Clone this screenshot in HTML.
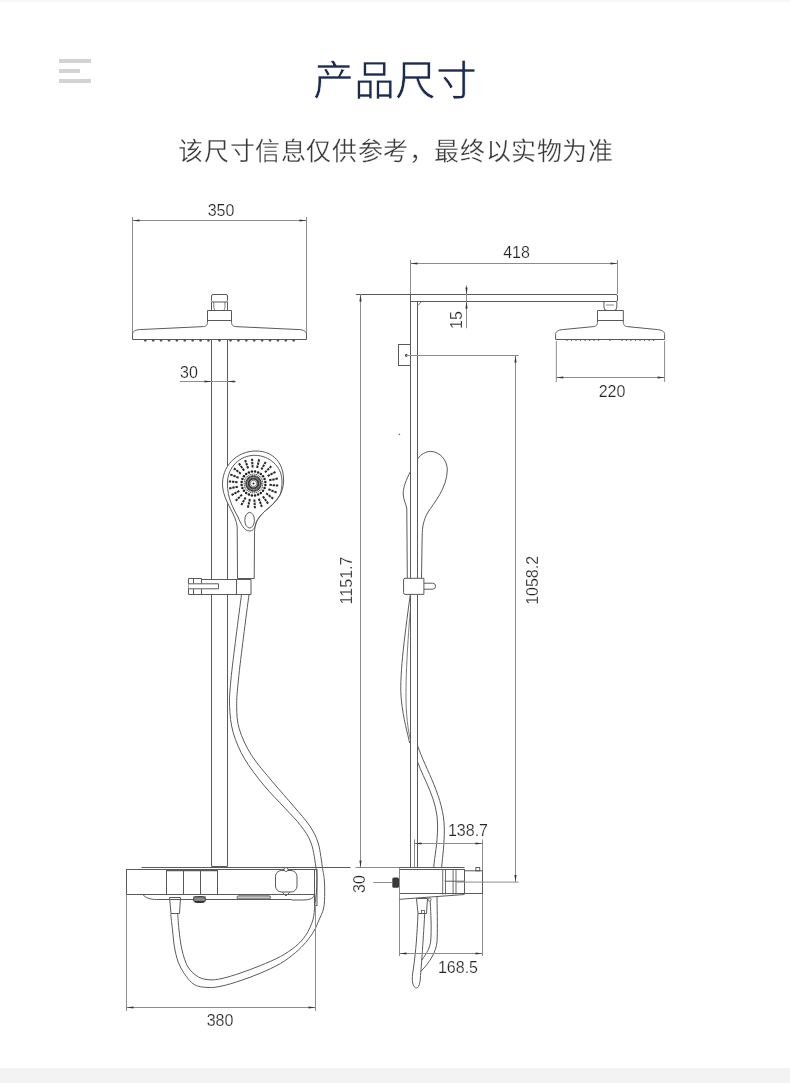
<!DOCTYPE html>
<html lang="zh-CN"><head><meta charset="utf-8">
<style>
html,body{margin:0;padding:0;background:#fff;}
body{width:790px;height:1083px;position:relative;overflow:hidden;font-family:"Liberation Sans",sans-serif;}
.topline{position:absolute;left:0;top:0;width:790px;height:2px;background:#f7f7f7;}
.bar{position:absolute;background:#d3d3d3;height:4px;left:59px;}
.title{position:absolute;left:0;width:790px;top:56px;text-align:center;font-size:41px;color:#1b2b50;-webkit-text-stroke:0.6px #fff;line-height:50px;will-change:transform;}
.sub{position:absolute;left:1px;width:790px;top:132.7px;text-align:center;font-size:25px;letter-spacing:0.6px;color:#383838;-webkit-text-stroke:0.3px #fff;line-height:36px;will-change:transform;}
.bottom{position:absolute;left:0;top:1068px;width:790px;height:15px;background:#f3f3f3;}
svg{position:absolute;left:0;top:0;will-change:transform;}
svg text{font-family:"Liberation Sans",sans-serif;}
</style></head><body>
<div class="topline"></div>
<div class="bar" style="top:59px;width:32px"></div>
<div class="bar" style="top:69px;width:21px"></div>
<div class="bar" style="top:79px;width:32px"></div>
<div class="title">产品尺寸</div>
<div class="sub">该尺寸信息仅供参考，最终以实物为准</div>
<svg width="790" height="1083" viewBox="0 0 790 1083">
<line x1="132" y1="220.5" x2="307" y2="220.5" stroke="#8c8c8c" stroke-width="1"/>
<line x1="132.5" y1="217" x2="132.5" y2="339" stroke="#8c8c8c" stroke-width="1"/>
<line x1="306.5" y1="217" x2="306.5" y2="339" stroke="#8c8c8c" stroke-width="1"/>
<path d="M132.5,220.5 L139.5,219.4 L139.5,221.6 Z" fill="#333" stroke="none"/>
<path d="M306.5,220.5 L299.5,221.6 L299.5,219.4 Z" fill="#333" stroke="none"/>
<text x="221" y="215.5" font-size="16" fill="#262626" stroke="#fff" stroke-width="0.2" text-anchor="middle">350</text>
<path d="M132.5,339.5 V334.5 C132.5,331.5 135.0,330 139.5,329.6 L203.5,326.6 C206.5,326.3 207.5,325 207.5,321 V310.5 H231.5 V321 C231.5,325 232.5,326.3 235.5,326.6 L299.5,329.6 C304.0,330 306.5,331.5 306.5,334.5 V339.5 Z" stroke="#5a5a5a" stroke-width="1" fill="none"/>
<line x1="207.5" y1="320.5" x2="231.5" y2="320.5" stroke="#5a5a5a" stroke-width="1"/>
<rect x="211.5" y="294.5" width="16" height="7.5" rx="1.5" stroke="#5a5a5a" stroke-width="1" fill="none"/>
<line x1="211.5" y1="302" x2="211.5" y2="310.5" stroke="#5a5a5a" stroke-width="1"/>
<line x1="227.5" y1="302" x2="227.5" y2="310.5" stroke="#5a5a5a" stroke-width="1"/>
<path d="M213.8,302 V307.5 Q214,309.5 215.5,310.5" stroke="#5a5a5a" stroke-width="0.8" fill="none"/>
<path d="M225,302 V307.5 Q224.8,309.5 223.3,310.5" stroke="#5a5a5a" stroke-width="0.8" fill="none"/>
<path d="M143.80,339.5 Q143.80,341.7 145.30,341.7 Q146.80,341.7 146.80,339.5 Z" fill="#555" stroke="none"/>
<path d="M292.20,339.5 Q292.20,341.7 293.70,341.7 Q295.20,341.7 295.20,339.5 Z" fill="#555" stroke="none"/>
<path d="M151.70,339.5 Q151.70,341.7 153.20,341.7 Q154.70,341.7 154.70,339.5 Z" fill="#555" stroke="none"/>
<path d="M284.30,339.5 Q284.30,341.7 285.80,341.7 Q287.30,341.7 287.30,339.5 Z" fill="#555" stroke="none"/>
<path d="M159.60,339.5 Q159.60,341.7 161.10,341.7 Q162.60,341.7 162.60,339.5 Z" fill="#555" stroke="none"/>
<path d="M276.40,339.5 Q276.40,341.7 277.90,341.7 Q279.40,341.7 279.40,339.5 Z" fill="#555" stroke="none"/>
<path d="M167.50,339.5 Q167.50,341.7 169.00,341.7 Q170.50,341.7 170.50,339.5 Z" fill="#555" stroke="none"/>
<path d="M268.50,339.5 Q268.50,341.7 270.00,341.7 Q271.50,341.7 271.50,339.5 Z" fill="#555" stroke="none"/>
<path d="M175.40,339.5 Q175.40,341.7 176.90,341.7 Q178.40,341.7 178.40,339.5 Z" fill="#555" stroke="none"/>
<path d="M260.60,339.5 Q260.60,341.7 262.10,341.7 Q263.60,341.7 263.60,339.5 Z" fill="#555" stroke="none"/>
<path d="M183.30,339.5 Q183.30,341.7 184.80,341.7 Q186.30,341.7 186.30,339.5 Z" fill="#555" stroke="none"/>
<path d="M252.70,339.5 Q252.70,341.7 254.20,341.7 Q255.70,341.7 255.70,339.5 Z" fill="#555" stroke="none"/>
<path d="M191.20,339.5 Q191.20,341.7 192.70,341.7 Q194.20,341.7 194.20,339.5 Z" fill="#555" stroke="none"/>
<path d="M244.80,339.5 Q244.80,341.7 246.30,341.7 Q247.80,341.7 247.80,339.5 Z" fill="#555" stroke="none"/>
<path d="M199.10,339.5 Q199.10,341.7 200.60,341.7 Q202.10,341.7 202.10,339.5 Z" fill="#555" stroke="none"/>
<path d="M236.90,339.5 Q236.90,341.7 238.40,341.7 Q239.90,341.7 239.90,339.5 Z" fill="#555" stroke="none"/>
<path d="M207.00,339.5 Q207.00,341.7 208.50,341.7 Q210.00,341.7 210.00,339.5 Z" fill="#555" stroke="none"/>
<path d="M229.00,339.5 Q229.00,341.7 230.50,341.7 Q232.00,341.7 232.00,339.5 Z" fill="#555" stroke="none"/>
<path d="M218.00,339.5 Q218.00,341.7 219.50,341.7 Q221.00,341.7 221.00,339.5 Z" fill="#555" stroke="none"/>
<path d="M211.5,339.5 V866.5 H227.5 V339.5" stroke="#5a5a5a" stroke-width="1" fill="none"/>
<line x1="180" y1="381.5" x2="236" y2="381.5" stroke="#8c8c8c" stroke-width="1"/>
<path d="M211.5,381.5 L204.5,382.6 L204.5,380.4 Z" fill="#333" stroke="none"/>
<path d="M227.5,381.5 L234.5,380.4 L234.5,382.6 Z" fill="#333" stroke="none"/>
<text x="180" y="377.8" font-size="16" fill="#262626" stroke="#fff" stroke-width="0.2" text-anchor="start">30</text>
<path d="M237.5,578.5 L237.2,527 C236.5,515 224,502 222.6,487 C221,466 237,451 256,451 C274,451 284,464 283.6,481 C283.4,487 282,491 280,495 C276,502 270,507 265,511 C260,516 256.5,520 255.5,525 C254.6,528 254.5,531 254.5,536 L254.2,578.5" stroke="#5a5a5a" stroke-width="1" fill="#fff"/>
<path d="M249.7,531 C244,531 241,524 238,517 C233,508 227.3,498 227.4,483 C227.6,467 240,455.3 254.8,455.3 C270,455.5 281.5,467 282,480 C282.2,486 281.5,491 280,495 C276,502 270,507 265,511 C260,516 256.5,520 255.5,525 C254.5,529 252.5,531 249.7,531 Z" stroke="#5a5a5a" stroke-width="1" fill="none"/>
<ellipse cx="249.6" cy="520.2" rx="4.8" ry="7.8" stroke="#5a5a5a" stroke-width="1" fill="none"/>
<line x1="257.50" y1="483.50" x2="263.30" y2="483.50" stroke="#333" stroke-width="1.5" stroke-dasharray="1.8 0.7"/>
<line x1="257.41" y1="484.33" x2="263.09" y2="485.54" stroke="#333" stroke-width="1.5" stroke-dasharray="1.8 0.7"/>
<line x1="257.15" y1="485.13" x2="262.45" y2="487.49" stroke="#333" stroke-width="1.5" stroke-dasharray="1.8 0.7"/>
<line x1="256.74" y1="485.85" x2="261.43" y2="489.26" stroke="#333" stroke-width="1.5" stroke-dasharray="1.8 0.7"/>
<line x1="256.18" y1="486.47" x2="260.06" y2="490.78" stroke="#333" stroke-width="1.5" stroke-dasharray="1.8 0.7"/>
<line x1="255.50" y1="486.96" x2="258.40" y2="491.99" stroke="#333" stroke-width="1.5" stroke-dasharray="1.8 0.7"/>
<line x1="254.74" y1="487.30" x2="256.53" y2="492.82" stroke="#333" stroke-width="1.5" stroke-dasharray="1.8 0.7"/>
<line x1="253.92" y1="487.48" x2="254.52" y2="493.25" stroke="#333" stroke-width="1.5" stroke-dasharray="1.8 0.7"/>
<line x1="253.08" y1="487.48" x2="252.48" y2="493.25" stroke="#333" stroke-width="1.5" stroke-dasharray="1.8 0.7"/>
<line x1="252.26" y1="487.30" x2="250.47" y2="492.82" stroke="#333" stroke-width="1.5" stroke-dasharray="1.8 0.7"/>
<line x1="251.50" y1="486.96" x2="248.60" y2="491.99" stroke="#333" stroke-width="1.5" stroke-dasharray="1.8 0.7"/>
<line x1="250.82" y1="486.47" x2="246.94" y2="490.78" stroke="#333" stroke-width="1.5" stroke-dasharray="1.8 0.7"/>
<line x1="250.26" y1="485.85" x2="245.57" y2="489.26" stroke="#333" stroke-width="1.5" stroke-dasharray="1.8 0.7"/>
<line x1="249.85" y1="485.13" x2="244.55" y2="487.49" stroke="#333" stroke-width="1.5" stroke-dasharray="1.8 0.7"/>
<line x1="249.59" y1="484.33" x2="243.91" y2="485.54" stroke="#333" stroke-width="1.5" stroke-dasharray="1.8 0.7"/>
<line x1="249.50" y1="483.50" x2="243.70" y2="483.50" stroke="#333" stroke-width="1.5" stroke-dasharray="1.8 0.7"/>
<line x1="249.59" y1="482.67" x2="243.91" y2="481.46" stroke="#333" stroke-width="1.5" stroke-dasharray="1.8 0.7"/>
<line x1="249.85" y1="481.87" x2="244.55" y2="479.51" stroke="#333" stroke-width="1.5" stroke-dasharray="1.8 0.7"/>
<line x1="250.26" y1="481.15" x2="245.57" y2="477.74" stroke="#333" stroke-width="1.5" stroke-dasharray="1.8 0.7"/>
<line x1="250.82" y1="480.53" x2="246.94" y2="476.22" stroke="#333" stroke-width="1.5" stroke-dasharray="1.8 0.7"/>
<line x1="251.50" y1="480.04" x2="248.60" y2="475.01" stroke="#333" stroke-width="1.5" stroke-dasharray="1.8 0.7"/>
<line x1="252.26" y1="479.70" x2="250.47" y2="474.18" stroke="#333" stroke-width="1.5" stroke-dasharray="1.8 0.7"/>
<line x1="253.08" y1="479.52" x2="252.48" y2="473.75" stroke="#333" stroke-width="1.5" stroke-dasharray="1.8 0.7"/>
<line x1="253.92" y1="479.52" x2="254.52" y2="473.75" stroke="#333" stroke-width="1.5" stroke-dasharray="1.8 0.7"/>
<line x1="254.74" y1="479.70" x2="256.53" y2="474.18" stroke="#333" stroke-width="1.5" stroke-dasharray="1.8 0.7"/>
<line x1="255.50" y1="480.04" x2="258.40" y2="475.01" stroke="#333" stroke-width="1.5" stroke-dasharray="1.8 0.7"/>
<line x1="256.18" y1="480.53" x2="260.06" y2="476.22" stroke="#333" stroke-width="1.5" stroke-dasharray="1.8 0.7"/>
<line x1="256.74" y1="481.15" x2="261.43" y2="477.74" stroke="#333" stroke-width="1.5" stroke-dasharray="1.8 0.7"/>
<line x1="257.15" y1="481.87" x2="262.45" y2="479.51" stroke="#333" stroke-width="1.5" stroke-dasharray="1.8 0.7"/>
<line x1="257.41" y1="482.67" x2="263.09" y2="481.46" stroke="#333" stroke-width="1.5" stroke-dasharray="1.8 0.7"/>
<circle cx="253.5" cy="483.5" r="6.5" stroke="#555" stroke-width="0.8" fill="none"/>
<circle cx="253.5" cy="483.5" r="3.2" stroke="#666" stroke-width="0.9" fill="#fff"/>
<circle cx="253.5" cy="483.5" r="1" fill="#222"/>
<circle cx="265.40" cy="485.07" r="1.25" fill="#222"/>
<circle cx="264.59" cy="488.09" r="1.25" fill="#222"/>
<circle cx="263.02" cy="490.81" r="1.25" fill="#222"/>
<circle cx="260.81" cy="493.02" r="1.25" fill="#222"/>
<circle cx="258.09" cy="494.59" r="1.25" fill="#222"/>
<circle cx="255.07" cy="495.40" r="1.25" fill="#222"/>
<circle cx="251.93" cy="495.40" r="1.25" fill="#222"/>
<circle cx="248.91" cy="494.59" r="1.25" fill="#222"/>
<circle cx="246.19" cy="493.02" r="1.25" fill="#222"/>
<circle cx="243.98" cy="490.81" r="1.25" fill="#222"/>
<circle cx="242.41" cy="488.09" r="1.25" fill="#222"/>
<circle cx="241.60" cy="485.07" r="1.25" fill="#222"/>
<circle cx="241.60" cy="481.93" r="1.25" fill="#222"/>
<circle cx="242.41" cy="478.91" r="1.25" fill="#222"/>
<circle cx="243.98" cy="476.19" r="1.25" fill="#222"/>
<circle cx="246.19" cy="473.98" r="1.25" fill="#222"/>
<circle cx="248.91" cy="472.41" r="1.25" fill="#222"/>
<circle cx="251.93" cy="471.60" r="1.25" fill="#222"/>
<circle cx="255.07" cy="471.60" r="1.25" fill="#222"/>
<circle cx="258.09" cy="472.41" r="1.25" fill="#222"/>
<circle cx="260.81" cy="473.98" r="1.25" fill="#222"/>
<circle cx="263.02" cy="476.19" r="1.25" fill="#222"/>
<circle cx="264.59" cy="478.91" r="1.25" fill="#222"/>
<circle cx="265.40" cy="481.93" r="1.25" fill="#222"/>
<line x1="269.44" y1="484.87" x2="278.91" y2="485.68" stroke="#2a2a2a" stroke-width="2" stroke-dasharray="2.4 0.8"/>
<line x1="268.41" y1="489.30" x2="277.26" y2="492.75" stroke="#2a2a2a" stroke-width="2" stroke-dasharray="2.4 0.8"/>
<line x1="266.17" y1="493.27" x2="273.69" y2="499.07" stroke="#2a2a2a" stroke-width="2" stroke-dasharray="2.4 0.8"/>
<line x1="262.90" y1="496.44" x2="268.49" y2="504.13" stroke="#2a2a2a" stroke-width="2" stroke-dasharray="2.4 0.8"/>
<line x1="258.88" y1="498.57" x2="262.07" y2="507.52" stroke="#2a2a2a" stroke-width="2" stroke-dasharray="2.4 0.8"/>
<line x1="254.41" y1="499.47" x2="254.96" y2="508.96" stroke="#2a2a2a" stroke-width="2" stroke-dasharray="2.4 0.8"/>
<line x1="249.88" y1="499.08" x2="247.72" y2="508.34" stroke="#2a2a2a" stroke-width="2" stroke-dasharray="2.4 0.8"/>
<line x1="245.63" y1="497.43" x2="240.96" y2="505.70" stroke="#2a2a2a" stroke-width="2" stroke-dasharray="2.4 0.8"/>
<line x1="242.03" y1="494.65" x2="235.21" y2="501.27" stroke="#2a2a2a" stroke-width="2" stroke-dasharray="2.4 0.8"/>
<line x1="239.35" y1="490.97" x2="230.95" y2="495.40" stroke="#2a2a2a" stroke-width="2" stroke-dasharray="2.4 0.8"/>
<line x1="237.82" y1="486.68" x2="228.51" y2="488.56" stroke="#2a2a2a" stroke-width="2" stroke-dasharray="2.4 0.8"/>
<line x1="237.56" y1="482.13" x2="228.09" y2="481.32" stroke="#2a2a2a" stroke-width="2" stroke-dasharray="2.4 0.8"/>
<line x1="238.59" y1="477.70" x2="229.74" y2="474.25" stroke="#2a2a2a" stroke-width="2" stroke-dasharray="2.4 0.8"/>
<line x1="240.83" y1="473.73" x2="233.31" y2="467.93" stroke="#2a2a2a" stroke-width="2" stroke-dasharray="2.4 0.8"/>
<line x1="244.10" y1="470.56" x2="238.51" y2="462.87" stroke="#2a2a2a" stroke-width="2" stroke-dasharray="2.4 0.8"/>
<line x1="248.12" y1="468.43" x2="244.93" y2="459.48" stroke="#2a2a2a" stroke-width="2" stroke-dasharray="2.4 0.8"/>
<line x1="252.59" y1="467.53" x2="252.04" y2="458.04" stroke="#2a2a2a" stroke-width="2" stroke-dasharray="2.4 0.8"/>
<line x1="257.12" y1="467.92" x2="259.28" y2="458.66" stroke="#2a2a2a" stroke-width="2" stroke-dasharray="2.4 0.8"/>
<line x1="261.37" y1="469.57" x2="266.04" y2="461.30" stroke="#2a2a2a" stroke-width="2" stroke-dasharray="2.4 0.8"/>
<line x1="264.97" y1="472.35" x2="271.79" y2="465.73" stroke="#2a2a2a" stroke-width="2" stroke-dasharray="2.4 0.8"/>
<line x1="267.65" y1="476.03" x2="276.05" y2="471.60" stroke="#2a2a2a" stroke-width="2" stroke-dasharray="2.4 0.8"/>
<line x1="269.18" y1="480.32" x2="278.49" y2="478.44" stroke="#2a2a2a" stroke-width="2" stroke-dasharray="2.4 0.8"/>
<path d="M188.5,578.5 H201.5 V579.5 H251 V594.5 H188.5 Z" stroke="#5a5a5a" stroke-width="1" fill="#fff"/>
<line x1="193.5" y1="578.5" x2="193.5" y2="583.8" stroke="#5a5a5a" stroke-width="1"/>
<line x1="201.5" y1="578.5" x2="201.5" y2="583.8" stroke="#5a5a5a" stroke-width="1"/>
<line x1="193.5" y1="588.8" x2="193.5" y2="594.5" stroke="#5a5a5a" stroke-width="1"/>
<line x1="201.5" y1="588.8" x2="201.5" y2="594.5" stroke="#5a5a5a" stroke-width="1"/>
<path d="M188.5,583.8 H218.5 V588.8 H188.5" stroke="#5a5a5a" stroke-width="1" fill="#fff"/>
<line x1="236.5" y1="579.5" x2="236.5" y2="594.5" stroke="#5a5a5a" stroke-width="1"/>
<line x1="237.5" y1="578.5" x2="254.2" y2="578.5" stroke="#5a5a5a" stroke-width="1"/>
<path d="M241.5,594.5 C240.58,601.58 237.77,622.75 236.00,637.00 C234.23,651.25 231.97,668.45 230.90,680.00 C229.83,691.55 229.22,697.53 229.60,706.30 C229.98,715.07 230.70,723.83 233.20,732.60 C235.70,741.37 239.48,750.12 244.60,758.90 C249.72,767.68 257.18,777.10 263.90,785.30 C270.62,793.50 278.77,801.38 284.90,808.10 C291.03,814.82 296.32,819.75 300.70,825.60 C305.08,831.45 308.63,836.03 311.20,843.20 C313.77,850.37 315.15,862.47 316.10,868.60 C317.05,874.73 316.87,875.93 316.90,880.00 C316.93,884.07 316.65,888.78 316.30,893.00 C315.95,897.22 315.37,900.80 314.80,905.30 C314.23,909.80 314.40,915.02 312.90,920.00 C311.40,924.98 308.67,930.82 305.80,935.20 C302.93,939.58 299.92,942.75 295.70,946.30 C291.48,949.85 286.40,953.28 280.50,956.50 C274.60,959.72 267.05,962.82 260.30,965.60 C253.55,968.38 246.38,971.05 240.00,973.20 C233.62,975.35 227.00,977.40 222.00,978.50 C217.00,979.60 213.92,980.05 210.00,979.80 C206.08,979.55 202.17,979.13 198.50,977.00 C194.83,974.87 190.75,971.50 188.00,967.00 C185.25,962.50 183.50,956.17 182.00,950.00 C180.50,943.83 179.72,936.08 179.00,930.00 C178.28,923.92 177.92,916.25 177.70,913.50" stroke="#5a5a5a" stroke-width="1" fill="none"/>
<path d="M249,594.5 C248.08,601.58 245.27,622.75 243.50,637.00 C241.73,651.25 239.53,668.45 238.40,680.00 C237.27,691.55 236.55,698.12 236.70,706.30 C236.85,714.48 236.82,720.92 239.30,729.10 C241.78,737.28 246.05,746.62 251.60,755.40 C257.15,764.18 265.58,773.32 272.60,781.80 C279.62,790.28 287.55,799.00 293.70,806.30 C299.85,813.60 305.42,819.45 309.50,825.60 C313.58,831.75 316.02,836.03 318.20,843.20 C320.38,850.37 321.58,862.47 322.60,868.60 C323.62,874.73 323.95,875.98 324.30,880.00 C324.65,884.02 324.80,888.03 324.70,892.70 C324.60,897.37 324.65,903.45 323.70,908.00 C322.75,912.55 320.63,916.15 319.00,920.00 C317.37,923.85 316.10,927.38 313.90,931.10 C311.70,934.82 308.83,938.75 305.80,942.30 C302.77,945.85 299.92,948.87 295.70,952.40 C291.48,955.93 286.40,960.03 280.50,963.50 C274.60,966.97 267.05,970.32 260.30,973.20 C253.55,976.08 246.38,978.67 240.00,980.80 C233.62,982.93 227.33,984.88 222.00,986.00 C216.67,987.12 212.83,987.88 208.00,987.50 C203.17,987.12 197.60,987.12 193.00,983.70 C188.40,980.28 183.40,972.62 180.40,967.00 C177.40,961.38 176.32,956.17 175.00,950.00 C173.68,943.83 173.22,936.08 172.50,930.00 C171.78,923.92 171.00,916.25 170.70,913.50" stroke="#5a5a5a" stroke-width="1" fill="none"/>
<line x1="141.5" y1="867.5" x2="350.5" y2="867.5" stroke="#5a5a5a" stroke-width="1"/>
<line x1="355.5" y1="867.5" x2="399" y2="867.5" stroke="#8c8c8c" stroke-width="1"/>
<rect x="126.5" y="869.5" width="188" height="25" rx="0" stroke="#5a5a5a" stroke-width="1" fill="none"/>
<line x1="126.5" y1="894.5" x2="126.5" y2="1011" stroke="#8c8c8c" stroke-width="1"/>
<line x1="166.5" y1="870" x2="166.5" y2="894.5" stroke="#5a5a5a" stroke-width="1"/>
<line x1="183.5" y1="870" x2="183.5" y2="894.5" stroke="#5a5a5a" stroke-width="1"/>
<line x1="200.5" y1="870" x2="200.5" y2="894.5" stroke="#5a5a5a" stroke-width="1"/>
<line x1="217.5" y1="870" x2="217.5" y2="894.5" stroke="#5a5a5a" stroke-width="1"/>
<line x1="166.5" y1="870.5" x2="217.5" y2="870.5" stroke="#5a5a5a" stroke-width="1.4"/>
<path d="M142.8,894.5 C146,898 150,899.5 156.8,899.5 H291 L292,900 H304 Q313.5,900 314.5,894.5" stroke="#5a5a5a" stroke-width="1" fill="none"/>
<rect x="237" y="895.8" width="33.5" height="3.2" rx="1.5" stroke="#555" stroke-width="0.9" fill="#c4c4c4"/>
<rect x="275.5" y="870.5" width="21.5" height="21.5" rx="6" stroke="#5a5a5a" stroke-width="1" fill="none"/>
<circle cx="286" cy="869.5" r="2" stroke="#5a5a5a" stroke-width="0.9" fill="#fff"/>
<path d="M282,892 L286,896 L290,892" stroke="#5a5a5a" stroke-width="0.9" fill="none"/>
<rect x="314.5" y="869.5" width="2.5" height="36" rx="0" stroke="#5a5a5a" stroke-width="1" fill="none"/>
<path d="M169.5,897.5 H180.5 L179.5,913.5 H171 Z" stroke="#5a5a5a" stroke-width="1" fill="none"/>
<rect x="193.5" y="896.5" width="12" height="6" rx="3" stroke="#333" stroke-width="1" fill="#8a8a8a"/>
<line x1="195" y1="901.5" x2="204" y2="901.5" stroke="#333" stroke-width="1.2"/>
<line x1="193" y1="897" x2="206" y2="897" stroke="#5a5a5a" stroke-width="1"/>
<line x1="126.5" y1="1007.5" x2="315" y2="1007.5" stroke="#8c8c8c" stroke-width="1"/>
<line x1="315.5" y1="905" x2="315.5" y2="1011" stroke="#8c8c8c" stroke-width="1"/>
<path d="M126.5,1007.5 L133.5,1006.4 L133.5,1008.6 Z" fill="#333" stroke="none"/>
<path d="M315.5,1007.5 L308.5,1008.6 L308.5,1006.4 Z" fill="#333" stroke="none"/>
<text x="220" y="1026" font-size="16" fill="#262626" stroke="#fff" stroke-width="0.2" text-anchor="middle">380</text>
<line x1="410" y1="263.5" x2="618" y2="263.5" stroke="#8c8c8c" stroke-width="1"/>
<line x1="410.5" y1="260" x2="410.5" y2="294.5" stroke="#8c8c8c" stroke-width="1"/>
<line x1="617.5" y1="260" x2="617.5" y2="294" stroke="#8c8c8c" stroke-width="1"/>
<path d="M410.5,263.5 L417.5,262.4 L417.5,264.6 Z" fill="#333" stroke="none"/>
<path d="M617.5,263.5 L610.5,264.6 L610.5,262.4 Z" fill="#333" stroke="none"/>
<text x="516.5" y="257.8" font-size="16" fill="#262626" stroke="#fff" stroke-width="0.2" text-anchor="middle">418</text>
<path d="M355.8,294.5 H616 Q617.5,294.5 617.5,296 V300 Q617.5,301.5 616,301.5 H410.5" stroke="#5a5a5a" stroke-width="1" fill="none"/>
<line x1="410.5" y1="294.5" x2="410.5" y2="867" stroke="#5a5a5a" stroke-width="1"/>
<line x1="417.5" y1="301.5" x2="417.5" y2="867" stroke="#5a5a5a" stroke-width="1"/>
<path d="M418,305.5 L421,302" stroke="#5a5a5a" stroke-width="0.8" fill="none"/>
<line x1="466.5" y1="285.4" x2="466.5" y2="328.2" stroke="#8c8c8c" stroke-width="1"/>
<path d="M466.5,294.5 L465.4,287.5 L467.6,287.5 Z" fill="#333" stroke="none"/>
<path d="M466.5,301.5 L467.6,308.5 L465.4,308.5 Z" fill="#333" stroke="none"/>
<text transform="translate(461.5,320) rotate(-90)" font-size="16" fill="#262626" stroke="#fff" stroke-width="0.2" text-anchor="middle">15</text>
<line x1="360.5" y1="294.5" x2="360.5" y2="867.5" stroke="#8c8c8c" stroke-width="1"/>
<path d="M360.5,294.5 L361.6,301.5 L359.4,301.5 Z" fill="#333" stroke="none"/>
<path d="M360.5,867.5 L359.4,860.5 L361.6,860.5 Z" fill="#333" stroke="none"/>
<text transform="translate(351.8,580.5) rotate(-90)" font-size="16" fill="#262626" stroke="#fff" stroke-width="0.2" text-anchor="middle">1151.7</text>
<rect x="398.5" y="344.5" width="12" height="21" rx="0" stroke="#5a5a5a" stroke-width="1" fill="none"/>
<circle cx="406.3" cy="355.4" r="1.3" fill="#333"/>
<line x1="406" y1="355.5" x2="518.7" y2="355.5" stroke="#8c8c8c" stroke-width="1"/>
<line x1="515.5" y1="355.5" x2="515.5" y2="882" stroke="#8c8c8c" stroke-width="1"/>
<path d="M515.5,355.5 L516.6,362.5 L514.4,362.5 Z" fill="#333" stroke="none"/>
<path d="M515.5,882 L514.4,875.0 L516.6,875.0 Z" fill="#333" stroke="none"/>
<text transform="translate(537.5,580.4) rotate(-90)" font-size="16" fill="#262626" stroke="#fff" stroke-width="0.2" text-anchor="middle">1058.2</text>
<path d="M555.6,339.5 V334.5 C555.6,331.5 558.1,330 562.6,329.6 L593.5,326.6 C596.5,326.3 597.5,325 597.5,321 V310.5 H623.3 V321 C623.3,325 624.3,326.3 627.3,326.6 L657.6,329.6 C662.1,330 664.6,331.5 664.6,334.5 V339.5 Z" stroke="#5a5a5a" stroke-width="1" fill="none"/>
<line x1="597.5" y1="320.5" x2="623.3" y2="320.5" stroke="#5a5a5a" stroke-width="1"/>
<path d="M603.9499999999999,302 V307 Q603.9499999999999,310.5 606.9499999999999,310.5 H613.85 Q616.85,310.5 616.85,307 V302" stroke="#5a5a5a" stroke-width="1" fill="none"/>
<path d="M606,305 H614" stroke="#5a5a5a" stroke-width="0.7" fill="none"/>
<path d="M565.90,339.5 Q567.00,342.3 568.10,339.5 Z" fill="#555" stroke="none"/>
<path d="M652.40,339.5 Q653.50,342.3 654.60,339.5 Z" fill="#555" stroke="none"/>
<path d="M570.40,339.5 Q571.50,342.3 572.60,339.5 Z" fill="#555" stroke="none"/>
<path d="M647.90,339.5 Q649.00,342.3 650.10,339.5 Z" fill="#555" stroke="none"/>
<path d="M574.90,339.5 Q576.00,342.3 577.10,339.5 Z" fill="#555" stroke="none"/>
<path d="M643.40,339.5 Q644.50,342.3 645.60,339.5 Z" fill="#555" stroke="none"/>
<path d="M579.40,339.5 Q580.50,342.3 581.60,339.5 Z" fill="#555" stroke="none"/>
<path d="M638.90,339.5 Q640.00,342.3 641.10,339.5 Z" fill="#555" stroke="none"/>
<path d="M583.90,339.5 Q585.00,342.3 586.10,339.5 Z" fill="#555" stroke="none"/>
<path d="M634.40,339.5 Q635.50,342.3 636.60,339.5 Z" fill="#555" stroke="none"/>
<path d="M588.40,339.5 Q589.50,342.3 590.60,339.5 Z" fill="#555" stroke="none"/>
<path d="M629.90,339.5 Q631.00,342.3 632.10,339.5 Z" fill="#555" stroke="none"/>
<path d="M592.90,339.5 Q594.00,342.3 595.10,339.5 Z" fill="#555" stroke="none"/>
<path d="M625.40,339.5 Q626.50,342.3 627.60,339.5 Z" fill="#555" stroke="none"/>
<path d="M597.40,339.5 Q598.50,342.3 599.60,339.5 Z" fill="#555" stroke="none"/>
<path d="M620.90,339.5 Q622.00,342.3 623.10,339.5 Z" fill="#555" stroke="none"/>
<path d="M608.9,339.5 Q610,342.3 611.1,339.5 Z" fill="#555" stroke="none"/>
<line x1="556.3" y1="341" x2="556.3" y2="382" stroke="#8c8c8c" stroke-width="1"/>
<line x1="664.6" y1="341" x2="664.6" y2="382" stroke="#8c8c8c" stroke-width="1"/>
<line x1="556" y1="377.5" x2="665" y2="377.5" stroke="#8c8c8c" stroke-width="1"/>
<path d="M556.3,377.5 L563.3,376.4 L563.3,378.6 Z" fill="#333" stroke="none"/>
<path d="M664.6,377.5 L657.6,378.6 L657.6,376.4 Z" fill="#333" stroke="none"/>
<text x="612" y="397" font-size="16" fill="#262626" stroke="#fff" stroke-width="0.2" text-anchor="middle">220</text>
<path d="M417.8,458.7 C421,454 426,451.4 430.7,451.4 C440,451.8 447.3,460 447.3,470 C447,488 434,503 428,512 C423,521 422.4,528 422.2,535 L421.5,578" stroke="#5a5a5a" stroke-width="1" fill="none"/>
<path d="M410.3,471.7 C406,480 403,488 403.2,494 C403.4,500 406.5,505 406.8,509 L407.3,578" stroke="#5a5a5a" stroke-width="1" fill="none"/>
<path d="M423.9,578.3 H405 Q403.6,578.3 403.6,580 V592.8 Q403.6,594.4 405,594.4 H423.9 Z" stroke="#5a5a5a" stroke-width="1" fill="#fff"/>
<circle cx="399.4" cy="434.4" r="0.8" fill="#777"/>
<path d="M423.9,583.2 H432.5 Q435.6,583.4 435.6,586.2 Q435.6,589 432.5,589.2 H423.9" stroke="#5a5a5a" stroke-width="1" fill="none"/>
<path d="M410.3,594.5 C404,640 399,680 401.4,700 C403,718 408,735 409.6,743" stroke="#5a5a5a" stroke-width="1" fill="none"/>
<path d="M410.3,610 C407,650 405,690 406.5,712 C407.5,726 409,734 410.2,739" stroke="#5a5a5a" stroke-width="0.8" fill="none"/>
<path d="M417.5,745.5 C426,770 444,798 444.3,828 C444.5,845 442.5,856 441.7,867" stroke="#5a5a5a" stroke-width="1" fill="none"/>
<path d="M417.5,761.6 C424,780 437.6,800 437.6,825 C437.6,845 434.5,856 433.8,867" stroke="#5a5a5a" stroke-width="1" fill="none"/>
<line x1="414" y1="843.5" x2="482.5" y2="843.5" stroke="#8c8c8c" stroke-width="1"/>
<line x1="414.5" y1="839.4" x2="414.5" y2="867" stroke="#8c8c8c" stroke-width="1"/>
<line x1="482.5" y1="839.4" x2="482.5" y2="956" stroke="#8c8c8c" stroke-width="1"/>
<path d="M414.5,843.5 L421.5,842.4 L421.5,844.6 Z" fill="#333" stroke="none"/>
<path d="M482.5,843.5 L475.5,844.6 L475.5,842.4 Z" fill="#333" stroke="none"/>
<text x="468" y="835.6" font-size="16" fill="#262626" stroke="#fff" stroke-width="0.2" text-anchor="middle">138.7</text>
<line x1="399" y1="867.5" x2="464.5" y2="867.5" stroke="#5a5a5a" stroke-width="1"/>
<rect x="399.5" y="869.5" width="65" height="24" rx="0" stroke="#5a5a5a" stroke-width="1" fill="none"/>
<line x1="399.5" y1="867.5" x2="399.5" y2="956" stroke="#8c8c8c" stroke-width="1"/>
<path d="M399.5,899.3 L464.5,894.5" stroke="#5a5a5a" stroke-width="1" fill="none"/>
<line x1="442.7" y1="869.8" x2="442.7" y2="894.5" stroke="#5a5a5a" stroke-width="0.9"/>
<line x1="445.5" y1="869.8" x2="445.5" y2="894.5" stroke="#5a5a5a" stroke-width="0.9"/>
<line x1="453.1" y1="869.8" x2="453.1" y2="894.5" stroke="#5a5a5a" stroke-width="0.9"/>
<line x1="456" y1="869.8" x2="456" y2="894.5" stroke="#5a5a5a" stroke-width="0.9"/>
<line x1="444.6" y1="881.2" x2="464.5" y2="881.2" stroke="#5a5a5a" stroke-width="1"/>
<rect x="464.5" y="870.8" width="18" height="22.7" rx="0" stroke="#5a5a5a" stroke-width="1" fill="none"/>
<rect x="475.9" y="867.5" width="3.8" height="3.3" rx="0" stroke="#5a5a5a" stroke-width="1" fill="none"/>
<rect x="392.3" y="877.4" width="6.7" height="10.4" rx="1.5" fill="#3a3a3a"/>
<line x1="373.4" y1="882.5" x2="392.2" y2="882.5" stroke="#8c8c8c" stroke-width="1"/>
<line x1="456" y1="882.1" x2="518.7" y2="882.1" stroke="#8c8c8c" stroke-width="1"/>
<text transform="translate(364.5,884) rotate(-90)" font-size="16" fill="#262626" stroke="#fff" stroke-width="0.2" text-anchor="middle">30</text>
<path d="M416.5,898.5 H427.5 L426.5,913.5 H418 Z" stroke="#5a5a5a" stroke-width="1" fill="none"/>
<rect x="421.5" y="910.5" width="3" height="3" rx="0" stroke="#5a5a5a" stroke-width="0.8" fill="none"/>
<circle cx="429.6" cy="899.6" r="1.5" stroke="#5a5a5a" stroke-width="0.9" fill="#fff"/>
<path d="M418,913.5 C417,935 416,950 413.5,968 C412,976 411.5,984 414.5,987 C417,989.5 419.5,987 420.2,980 C421,970 423,945 424.7,913.5" stroke="#5a5a5a" stroke-width="1" fill="none"/>
<path d="M430.2,901 C431,915 431.5,930 430.8,940 C430,948 427,953 421.8,960" stroke="#5a5a5a" stroke-width="1" fill="none"/>
<path d="M437,897 C437.3,915 437.6,932 437,942 C436,952 430,962 420.8,971.5" stroke="#5a5a5a" stroke-width="1" fill="none"/>
<line x1="399" y1="953.5" x2="482.5" y2="953.5" stroke="#8c8c8c" stroke-width="1"/>
<path d="M399.5,953.5 L406.5,952.4 L406.5,954.6 Z" fill="#333" stroke="none"/>
<path d="M482.5,953.5 L475.5,954.6 L475.5,952.4 Z" fill="#333" stroke="none"/>
<text x="458" y="973.3" font-size="16" fill="#262626" stroke="#fff" stroke-width="0.2" text-anchor="middle">168.5</text>
</svg>
<div class="bottom"></div>
</body></html>
